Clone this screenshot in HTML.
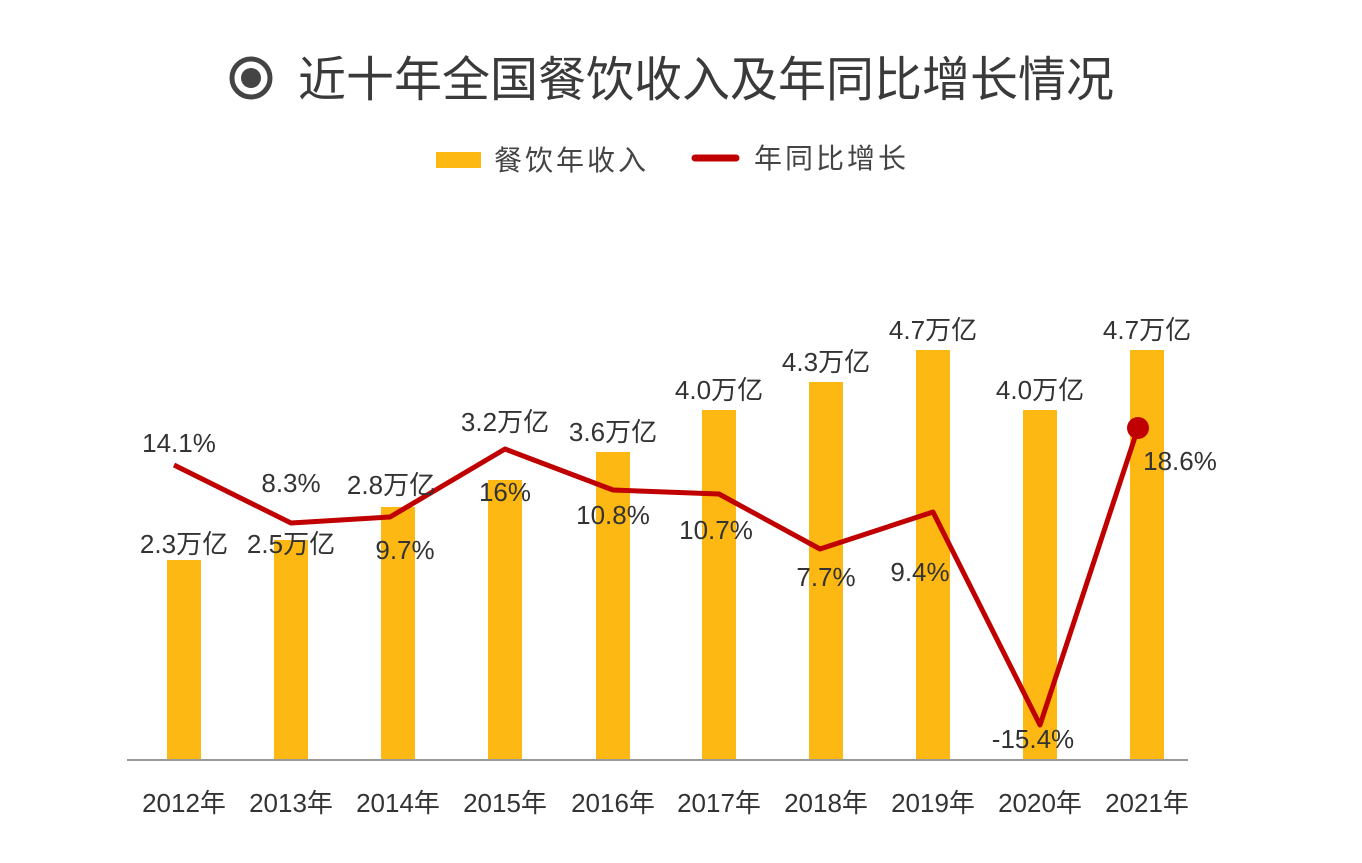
<!DOCTYPE html>
<html><head><meta charset="utf-8"><style>
body{margin:0;background:#fff;}
svg text{font-family:"Liberation Sans","Noto Sans CJK SC",sans-serif;fill:#333;}
</style></head><body>
<svg width="1362" height="858" viewBox="0 0 1362 858" xmlns="http://www.w3.org/2000/svg">
<rect width="1362" height="858" fill="#fff"/>
<circle cx="251" cy="78" r="19" fill="none" stroke="#444" stroke-width="5"/>
<circle cx="251" cy="78" r="10" fill="#444"/>
<text x="298" y="96" font-size="48" style="fill:#3a3a3a">近十年全国餐饮收入及年同比增长情况</text>
<rect x="436" y="152" width="45" height="16" fill="#fdb813"/>
<text x="494" y="170" font-size="28" letter-spacing="3" style="fill:#444">餐饮年收入</text>
<line x1="695" y1="158" x2="736" y2="158" stroke="#c00000" stroke-width="7" stroke-linecap="round"/>
<text x="754" y="168" font-size="28" letter-spacing="3" style="fill:#444">年同比增长</text>
<g fill="#fdb813">
<rect x="167" y="560" width="34" height="199"/>
<rect x="274" y="540" width="34" height="219"/>
<rect x="381" y="507" width="34" height="252"/>
<rect x="488" y="480" width="34" height="279"/>
<rect x="596" y="452" width="34" height="307"/>
<rect x="702" y="410" width="34" height="349"/>
<rect x="809" y="382" width="34" height="377"/>
<rect x="916" y="350" width="34" height="409"/>
<rect x="1023" y="410" width="34" height="349"/>
<rect x="1130" y="350" width="34" height="409"/>
</g>
<line x1="127" y1="760" x2="1188" y2="760" stroke="#999" stroke-width="2"/>
<polyline points="174,465 291,523 390,517 505,449 613,490 719,494 820,549 933,512 1040,725 1138,428" fill="none" stroke="#c00000" stroke-width="5" stroke-linejoin="round"/>
<circle cx="1138" cy="428" r="11" fill="#c00000"/>
<g font-size="26" text-anchor="middle">
<text x="184" y="553">2.3万亿</text>
<text x="291" y="553">2.5万亿</text>
<text x="391" y="494">2.8万亿</text>
<text x="505" y="431">3.2万亿</text>
<text x="613" y="441">3.6万亿</text>
<text x="719" y="399">4.0万亿</text>
<text x="826" y="371">4.3万亿</text>
<text x="933" y="339">4.7万亿</text>
<text x="1040" y="399">4.0万亿</text>
<text x="1147" y="339">4.7万亿</text>
<text x="179" y="452">14.1%</text>
<text x="291" y="492">8.3%</text>
<text x="405" y="559">9.7%</text>
<text x="505" y="501">16%</text>
<text x="613" y="524">10.8%</text>
<text x="716" y="539">10.7%</text>
<text x="826" y="586">7.7%</text>
<text x="920" y="581">9.4%</text>
<text x="1033" y="748">-15.4%</text>
<text x="1180" y="470">18.6%</text>
<text x="184" y="812">2012年</text>
<text x="291" y="812">2013年</text>
<text x="398" y="812">2014年</text>
<text x="505" y="812">2015年</text>
<text x="613" y="812">2016年</text>
<text x="719" y="812">2017年</text>
<text x="826" y="812">2018年</text>
<text x="933" y="812">2019年</text>
<text x="1040" y="812">2020年</text>
<text x="1147" y="812">2021年</text>
</g>
</svg>
</body></html>
